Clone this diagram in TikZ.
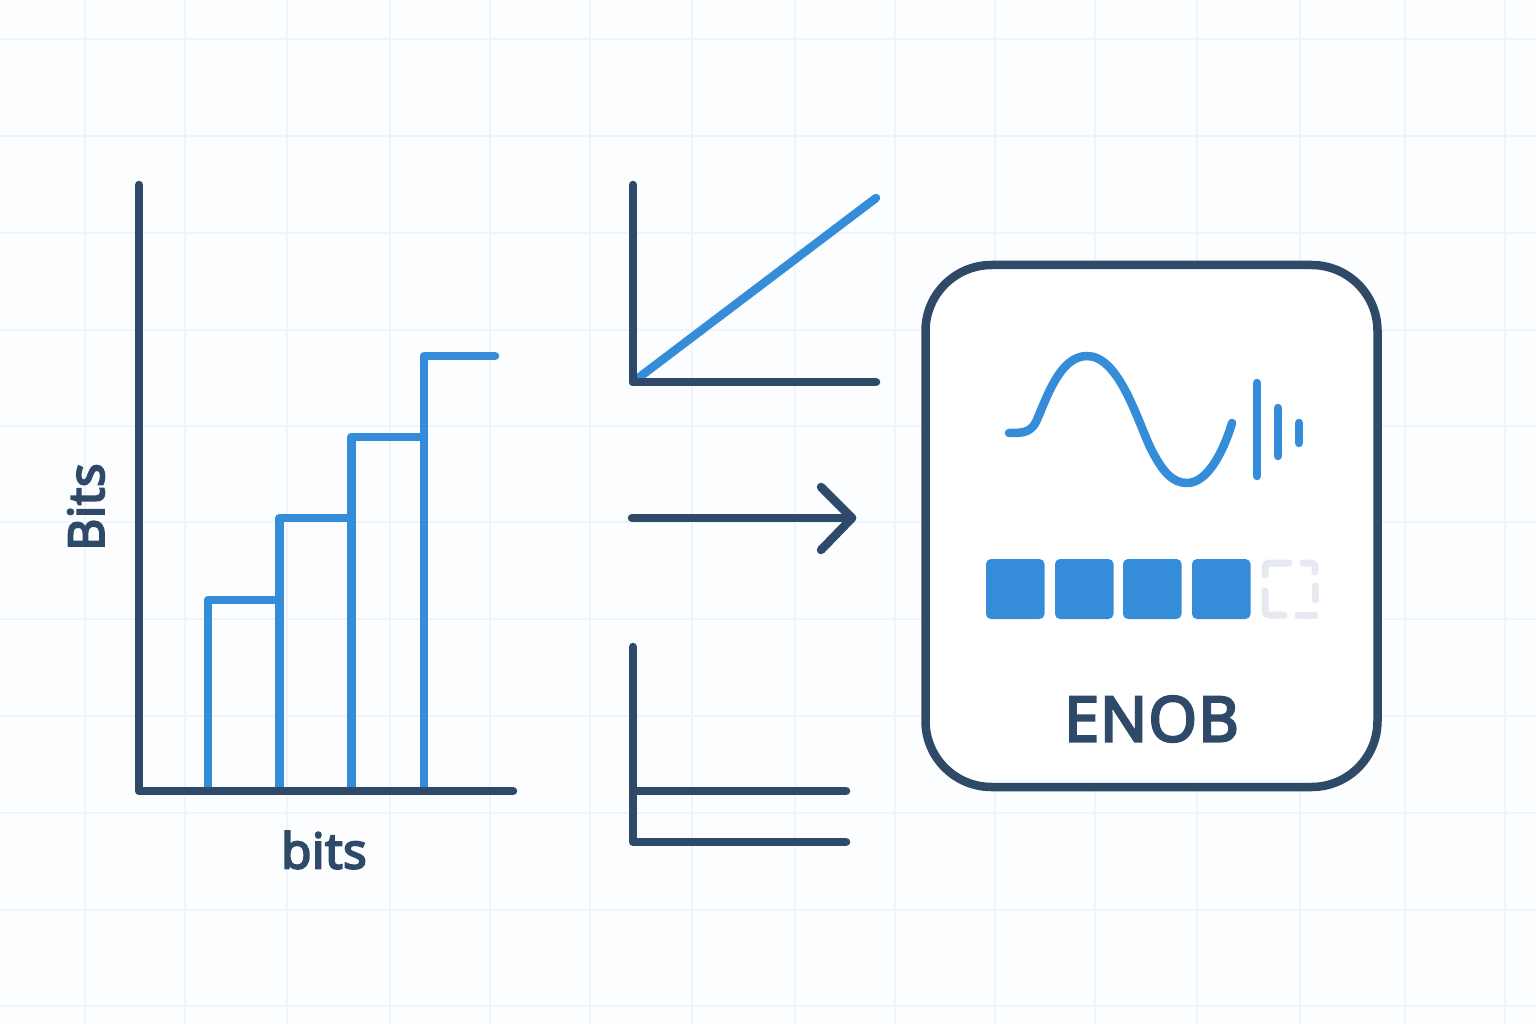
\documentclass[tikz,border=0pt]{standalone}
\usepackage{fontspec}
\setmainfont{Open Sans}
\definecolor{navy}{HTML}{2F4A68}
\definecolor{azure}{HTML}{358CD8}
\definecolor{paper}{HTML}{FBFDFE}
\definecolor{gridc}{HTML}{EEF5FA}
\definecolor{ghost}{HTML}{E6E9EF}
\tikzset{
  gridline/.style={draw=gridc,line width=1.6pt},
  axis/.style={draw=navy,line width=8.5pt,line cap=round,line join=round},
  trace/.style={draw=azure,line width=8.5pt,line cap=round,line join=round},
  thin trace/.style={draw=azure,line width=8.5pt,line cap=round},
  cell/.style={fill=azure,rounded corners=5pt},
  label/.style={text=navy,inner sep=0pt,font=\fontsize{49}{49}\selectfont\addfontfeatures{LetterSpace=1.5,FakeBold=4.5}},
}
\begin{document}
\begin{tikzpicture}[x=1pt,y=-1pt]
\useasboundingbox (0,0) rectangle (1536,1024);
\fill[paper] (0,0) rectangle (1536,1024);
\foreach \x in {85,185,287,390,490,590,692,795,895,995,1095,1197,1300,1405,1505}
  \draw[gridline] (\x,0) -- (\x,1024);
\foreach \y in {39,136,233,330,426,522,619,716,813,910,1006}
  \draw[gridline] (0,\y) -- (1536,\y);

% left chart
\draw[trace] (208,788) -- (208,600) -- (279,600);
\draw[trace] (279.5,788) -- (279.5,518) -- (351,518);
\draw[trace] (351.5,788) -- (351.5,437) -- (424,437);
\draw[trace] (424,788) -- (424,356) -- (495,356);
\draw[axis] (139,185) -- (139,791) -- (513,791);
\node[label,rotate=90] (ylab) at (86,507) {Bits};
\node[label] (xlab) at (324,850) {bits};

% top small chart
\draw[trace] (633,382) -- (876,198);
\draw[axis] (633,185) -- (633,382) -- (876,382);

% arrow
\coordinate (arrowstart) at (632,518);
\coordinate (arrowend) at (852,518);
\draw[axis] (arrowstart) -- (arrowend);
\draw[axis] (821,487) -- (arrowend) -- (821,550);

% bottom small chart
\draw[axis] (633,647) -- (633,842) -- (846,842);
\draw[axis] (633,791) -- (846,791);

% ENOB card
\node[draw=navy,line width=8.5pt,fill=white,rounded corners=66pt,minimum width=452pt,minimum height=522pt,inner sep=0pt] (card) at (1151.5,526) {};
\draw[trace] (1009,433) .. controls (1022,433) and (1030,433) .. (1036,422)
  .. controls (1047,397) and (1060,356) .. (1087,356)
  .. controls (1118,356) and (1136,416) .. (1150,447)
  .. controls (1162,471) and (1172,483) .. (1187,483)
  .. controls (1208,483) and (1224,450) .. (1232,423);
\draw[thin trace] (1257,383) -- (1257,476);
\draw[thin trace] (1278,408) -- (1278,456);
\draw[thin trace] (1299,423) -- (1299,443);
\foreach \x in {986,1055,1123,1192}
  \fill[cell] (\x,559) rectangle ++(58.5,60);
% dashed empty cell
\begin{scope}[draw=ghost,line width=7pt,line cap=round]
  \draw[rounded corners=4pt] (1265,575) -- (1265,563) -- (1289,563);
  \draw[rounded corners=4pt] (1303,563) -- (1315,563) -- (1315,572);
  \draw (1315,586) -- (1315,600);
  \draw[rounded corners=4pt] (1265,591) -- (1265,615) -- (1284,615);
  \draw (1298,615) -- (1315,615);
\end{scope}
\node[text=navy,inner sep=0pt,font=\fontsize{62}{62}\selectfont\addfontfeatures{LetterSpace=2.5,FakeBold=4.5}] (enob) at (1151.5,719) {ENOB};
\end{tikzpicture}
\end{document}
